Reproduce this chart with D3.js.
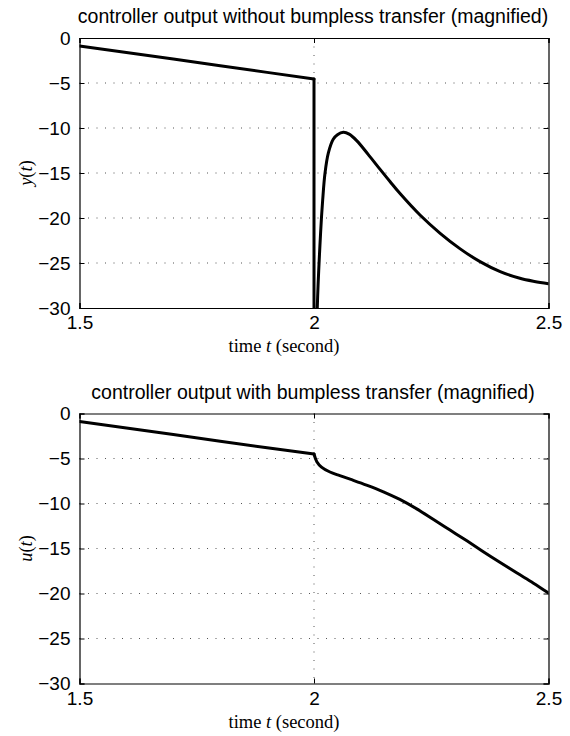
<!DOCTYPE html>
<html><head><meta charset="utf-8">
<script src="https://cdn.jsdelivr.net/npm/d3@7"></script>
<style>body{margin:0;background:#fff}svg{display:block}</style>
</head><body>
<script>
// ---- data ----
const titles = ["controller output without bumpless transfer (magnified)",
                "controller output with bumpless transfer (magnified)"];
const yLabels = ["y", "u"];
const xTicks = [1.5, 2, 2.5];
const xTickLabels = ["1.5", "2", "2.5"];
const yTicks = [0, -5, -10, -15, -20, -25, -30];
const yTickLabels = ["0", "\u22125", "\u221210", "\u221215", "\u221220", "\u221225", "\u221230"];
const xDomain = [1.5, 2.5];
const yDomain = [-30, 0];
const switchTime = 2.0;

const tWithout = [1.5, 1.6, 1.7, 1.8, 1.9, 2.0, 2.001, 2.004, 2.007, 2.014, 2.0185, 2.0235, 2.0305, 2.041, 2.05, 2.0625, 2.075, 2.091, 2.115, 2.141, 2.162, 2.183, 2.226, 2.269, 2.311, 2.354, 2.397, 2.439, 2.47, 2.5];
const yWithout = [-0.9, -1.62, -2.34, -3.08, -3.82, -4.55, -60, -42, -30, -21.7, -18, -15.0, -12.8, -11.26, -10.75, -10.48, -10.68, -11.4, -12.9, -14.6, -15.95, -17.26, -19.67, -21.7, -23.4, -24.85, -25.96, -26.7, -27.05, -27.3];

const tWith = [1.5, 1.6, 1.7, 1.8, 1.9, 2.0, 2.006, 2.016, 2.034, 2.055, 2.077, 2.112, 2.148, 2.183, 2.219, 2.254, 2.29, 2.326, 2.361, 2.397, 2.432, 2.468, 2.5];
const uWith = [-0.9, -1.62, -2.34, -3.08, -3.8, -4.5, -5.35, -5.95, -6.5, -6.9, -7.3, -7.95, -8.7, -9.55, -10.6, -11.75, -12.95, -14.15, -15.35, -16.55, -17.7, -18.85, -19.95];

const series = [
  tWithout.map((t, i) => [t, yWithout[i]]),
  tWith.map((t, i) => [t, uWith[i]])
];

// ---- layout ----
const W = 570, H = 736;
const left = 79.5, right = 548.5;
const panels = [{top: 38, bottom: 308}, {top: 413.5, bottom: 683.5}];

const svg = d3.select("body").append("svg").attr("width", W).attr("height", H);
const sans = "Liberation Sans, Arial, Helvetica, sans-serif";
const serif = "Liberation Serif, Times New Roman, serif";

panels.forEach((p, k) => {
  const x = d3.scaleLinear().domain(xDomain).range([left, right]);
  const y = d3.scaleLinear().domain(yDomain).range([p.bottom, p.top]);
  const g = svg.append("g");
  const clipId = "clip" + k;
  svg.append("clipPath").attr("id", clipId).append("rect")
    .attr("x", left).attr("y", p.top).attr("width", right - left).attr("height", p.bottom - p.top);

  // grid
  g.selectAll(".hg").data(yTicks.filter(v => v > yDomain[0] && v < yDomain[1])).join("line")
    .attr("x1", left).attr("x2", right).attr("y1", d => y(d)).attr("y2", d => y(d))
    .attr("stroke", "#555").attr("stroke-width", 1).attr("stroke-dasharray", "1,7.5");
  g.selectAll(".vg").data(xTicks.filter(v => v > xDomain[0] && v < xDomain[1])).join("line")
    .attr("y1", p.top).attr("y2", p.bottom).attr("x1", d => x(d)).attr("x2", d => x(d))
    .attr("stroke", "#555").attr("stroke-width", 1).attr("stroke-dasharray", "1,7.5");

  // line: straight part before the switch, smooth part after
  const pre = series[k].filter(d => d[0] <= switchTime);
  const post = series[k].filter(d => d[0] >= switchTime);
  const lc = g.append("g").attr("clip-path", `url(#${clipId})`);
  lc.append("path").datum(pre)
    .attr("fill", "none").attr("stroke", "#000").attr("stroke-width", 3)
    .attr("stroke-linejoin", "round").attr("stroke-linecap", "round")
    .attr("d", d3.line().x(d => x(d[0])).y(d => y(d[1])));
  lc.append("path").datum(post)
    .attr("fill", "none").attr("stroke", "#000").attr("stroke-width", 3)
    .attr("stroke-linejoin", "round").attr("stroke-linecap", "round")
    .attr("d", d3.line().curve(d3.curveCatmullRom.alpha(0.5)).x(d => x(d[0])).y(d => y(d[1])));

  // axes with inward ticks
  const axB = d3.axisBottom(x).tickValues(xTicks).tickSize(-5).tickFormat((d, i) => xTickLabels[i]).tickPadding(8);
  const axT = d3.axisTop(x).tickValues(xTicks).tickSize(-5).tickFormat("");
  const axL = d3.axisLeft(y).tickValues(yTicks).tickSize(-5).tickFormat((d, i) => yTickLabels[i]).tickPadding(9);
  const axR = d3.axisRight(y).tickValues(yTicks).tickSize(-5).tickFormat("");
  [[axB, `translate(0,${p.bottom})`], [axT, `translate(0,${p.top})`],
   [axL, `translate(${left},0)`], [axR, `translate(${right},0)`]].forEach(([ax, tr]) => {
    const a = g.append("g").attr("transform", tr).call(ax);
    a.select(".domain").attr("stroke", "#000").attr("stroke-width", 1.2);
    a.selectAll(".tick line").attr("stroke", "#000");
    a.selectAll("text").attr("font-family", sans).attr("font-size", 19).attr("fill", "#000");
  });

  // title
  svg.append("text").attr("x", (left + right) / 2 - 1).attr("y", p.top - 15)
    .attr("text-anchor", "middle").attr("font-family", sans).attr("font-size", 19.5)
    .text(titles[k]);

  // x label
  const xl = svg.append("text").attr("x", (left + right) / 2 - 30).attr("y", p.bottom + 44)
    .attr("text-anchor", "middle").attr("font-family", serif).attr("font-size", 18.5);
  xl.append("tspan").text("time ");
  xl.append("tspan").attr("font-style", "italic").text("t");
  xl.append("tspan").text(" (second)");

  // y label
  const yl = svg.append("text")
    .attr("transform", `translate(32,${(p.top + p.bottom) / 2}) rotate(-90)`)
    .attr("text-anchor", "middle").attr("font-family", serif).attr("font-size", 18.5);
  yl.append("tspan").attr("font-style", "italic").text(yLabels[k]);
  yl.append("tspan").text("(");
  yl.append("tspan").attr("font-style", "italic").text("t");
  yl.append("tspan").text(")");
});
</script>
</body></html>
